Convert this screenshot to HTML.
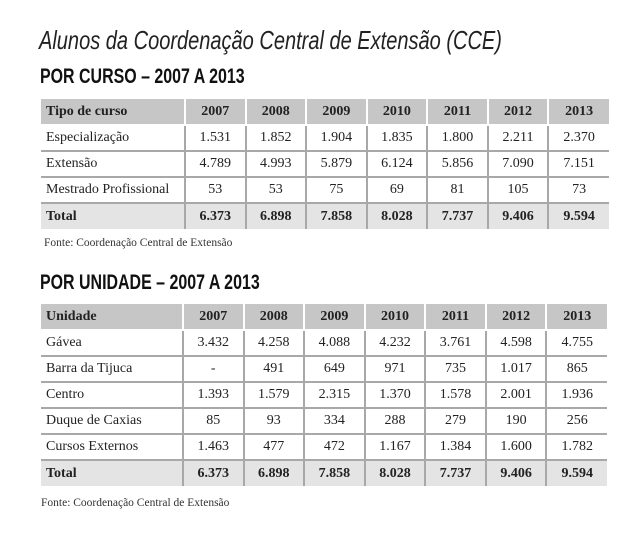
<!DOCTYPE html>
<html><head><meta charset="utf-8"><style>
body{margin:0;background:#fff;width:640px;height:538px;position:relative;overflow:hidden;font-family:"Liberation Serif",serif;color:#222}
.t{position:absolute;left:39px;top:25px;font-family:"Liberation Sans",sans-serif;font-style:italic;font-size:26px;color:#222;white-space:nowrap;transform:scaleX(0.77);transform-origin:0 0}
.h{position:absolute;left:40px;font-family:"Liberation Sans",sans-serif;font-weight:bold;font-size:21px;color:#111;white-space:nowrap;transform:scaleX(0.76);transform-origin:0 0}
.f{position:absolute;left:44px;font-size:11.5px;color:#333}
table{position:absolute;left:41px;border-collapse:collapse;font-size:14px}
tr{height:26px}
td{border:2px solid #a8a8a8;text-align:center;padding:0;height:24px}
td:first-child{text-align:left;padding-left:5px;border-left:none}
tr td:last-child{border-right:none}
tr.hd td{background:#c6c6c6;font-weight:bold;border:2px solid #fff;border-top:none}
tr.hd td:first-child{border-left:none}
tr.hd td:last-child{border-right:none}
tr.tot td{background:#e4e4e4;font-weight:bold;border-bottom:none}
</style></head><body>
<div class="t">Alunos da Coordenação Central de Extensão (CCE)</div>
<div class="h" style="top:65px">POR CURSO – 2007 A 2013</div>
<table style="top:99px;width:568px">
<colgroup><col style="width:144px"><col span="7" style="width:60.6px"></colgroup>
<tr class="hd"><td>Tipo de curso</td><td>2007</td><td>2008</td><td>2009</td><td>2010</td><td>2011</td><td>2012</td><td>2013</td></tr>
<tr><td>Especialização</td><td>1.531</td><td>1.852</td><td>1.904</td><td>1.835</td><td>1.800</td><td>2.211</td><td>2.370</td></tr>
<tr><td>Extensão</td><td>4.789</td><td>4.993</td><td>5.879</td><td>6.124</td><td>5.856</td><td>7.090</td><td>7.151</td></tr>
<tr><td>Mestrado Profissional</td><td>53</td><td>53</td><td>75</td><td>69</td><td>81</td><td>105</td><td>73</td></tr>
<tr class="tot"><td>Total</td><td>6.373</td><td>6.898</td><td>7.858</td><td>8.028</td><td>7.737</td><td>9.406</td><td>9.594</td></tr>
</table>
<div class="f" style="top:237px">Fonte: Coordenação Central de Extensão</div>
<div class="h" style="top:271px">POR UNIDADE – 2007 A 2013</div>
<table style="top:304px;width:566px">
<colgroup><col style="width:142px"><col span="7" style="width:60.6px"></colgroup>
<tr class="hd"><td>Unidade</td><td>2007</td><td>2008</td><td>2009</td><td>2010</td><td>2011</td><td>2012</td><td>2013</td></tr>
<tr><td>Gávea</td><td>3.432</td><td>4.258</td><td>4.088</td><td>4.232</td><td>3.761</td><td>4.598</td><td>4.755</td></tr>
<tr><td>Barra da Tijuca</td><td>-</td><td>491</td><td>649</td><td>971</td><td>735</td><td>1.017</td><td>865</td></tr>
<tr><td>Centro</td><td>1.393</td><td>1.579</td><td>2.315</td><td>1.370</td><td>1.578</td><td>2.001</td><td>1.936</td></tr>
<tr><td>Duque de Caxias</td><td>85</td><td>93</td><td>334</td><td>288</td><td>279</td><td>190</td><td>256</td></tr>
<tr><td>Cursos Externos</td><td>1.463</td><td>477</td><td>472</td><td>1.167</td><td>1.384</td><td>1.600</td><td>1.782</td></tr>
<tr class="tot"><td>Total</td><td>6.373</td><td>6.898</td><td>7.858</td><td>8.028</td><td>7.737</td><td>9.406</td><td>9.594</td></tr>
</table>
<div class="f" style="top:497px;left:41px">Fonte: Coordenação Central de Extensão</div>
</body></html>
